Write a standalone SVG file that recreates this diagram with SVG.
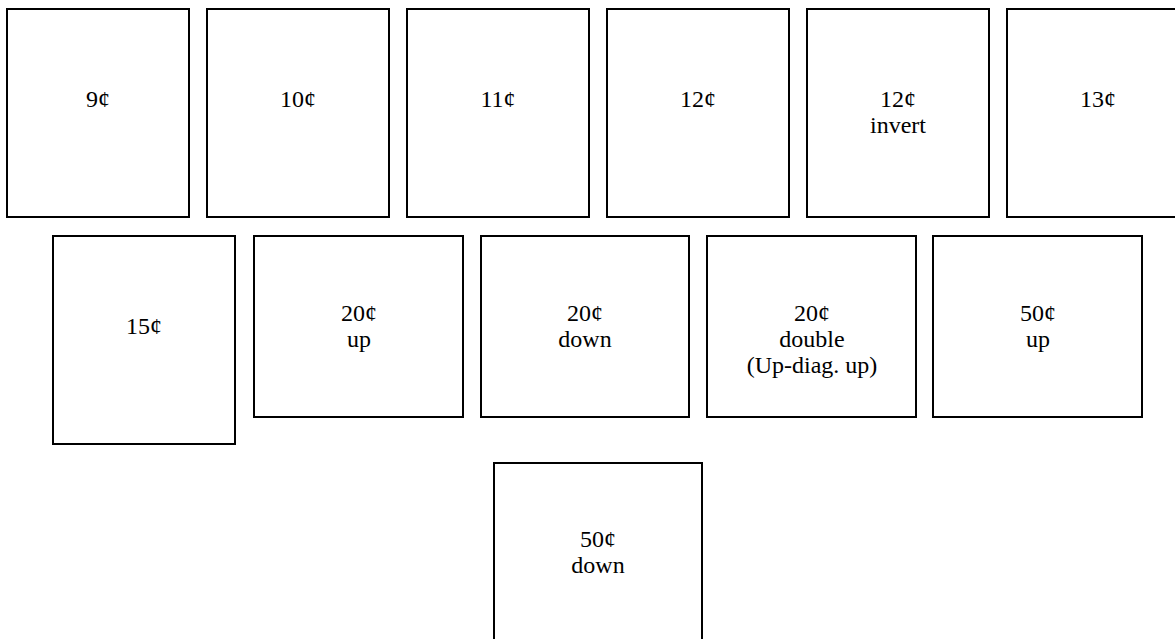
<svg xmlns="http://www.w3.org/2000/svg" width="1175" height="639" viewBox="0 0 1175 639">
<style>
rect.b{fill:#fff;stroke:#000;stroke-width:2}
text{font-family:"Liberation Serif","Times New Roman",serif;font-size:24px;fill:#000;text-anchor:middle}
</style>
<rect width="1175" height="639" fill="#fff"/>
<g id="n9"><rect class="b" x="7" y="9" width="182" height="208"/><text x="98" y="107">9¢</text></g>
<g id="n10"><rect class="b" x="207" y="9" width="182" height="208"/><text x="298" y="107">10¢</text></g>
<g id="n11"><rect class="b" x="407" y="9" width="182" height="208"/><text x="498" y="107">11¢</text></g>
<g id="n12"><rect class="b" x="607" y="9" width="182" height="208"/><text x="698" y="107">12¢</text></g>
<g id="n12inv"><rect class="b" x="807" y="9" width="182" height="208"/><text x="898" y="107">12¢</text><text x="898" y="133">invert</text></g>
<g id="n13"><rect class="b" x="1007" y="9" width="182" height="208"/><text x="1098" y="107">13¢</text></g>
<g id="n15"><rect class="b" x="53" y="236" width="182" height="208"/><text x="144" y="334">15¢</text></g>
<g id="n20up"><rect class="b" x="254" y="236" width="209" height="181"/><text x="359" y="321">20¢</text><text x="359" y="347">up</text></g>
<g id="n20down"><rect class="b" x="481" y="236" width="208" height="181"/><text x="585" y="321">20¢</text><text x="585" y="347">down</text></g>
<g id="n20double"><rect class="b" x="707" y="236" width="209" height="181"/><text x="812" y="321">20¢</text><text x="812" y="347">double</text><text x="812" y="373">(Up-diag. up)</text></g>
<g id="n50up"><rect class="b" x="933" y="236" width="209" height="181"/><text x="1038" y="321">50¢</text><text x="1038" y="347">up</text></g>
<g id="n50down"><rect class="b" x="494" y="463" width="208" height="181"/><text x="598" y="547">50¢</text><text x="598" y="573">down</text></g>
<g id="connectors"/>
</svg>
